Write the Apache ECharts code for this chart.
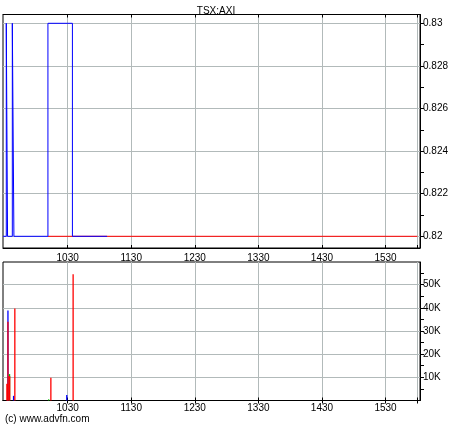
<!DOCTYPE html>
<html><head><meta charset="utf-8">
<script src="https://cdn.jsdelivr.net/npm/echarts@6/dist/echarts.min.js"></script>
<style>html,body{margin:0;padding:0;background:#fff}#c{width:460px;height:430px}</style>
</head><body><div id="c"></div><script>
const title = 'TSX:AXI';
const credit = '(c) www.advfn.com';
// times are minutes since midnight
const priceTimes  = [569, 572.1, 573.3, 577.8, 579.3, 611.4, 634.5, 667.2];
const priceValues = [0.82, 0.83, 0.82, 0.83, 0.82, 0.83, 0.82, 0.82];
const refTimes  = [611.4, 960];
const refValues = [0.82, 0.82];
// volume bars
const volBlueTimes  = [574, 579.3, 629.5];
const volBlueValues = [38800, 2000, 2400];
const volRedTimes  = [574, 580.5, 614.5, 635.5];
const volRedValues = [34000, 39700, 9800, 54500];
const volGreenTimes  = [575.5, 612.4];
const volGreenValues = [11400, 500];
const volRedSmallTimes  = [573, 575];
const volRedSmallValues = [7200, 10500];
// axes
const xLabelTimes = [630, 690, 750, 810, 870, 930];
const xGridTimes  = [630, 690, 750, 810, 870, 930, 960];
const priceLabels = [0.82, 0.822, 0.824, 0.826, 0.828, 0.83];
const priceTicks  = [0.82, 0.821, 0.822, 0.823, 0.824, 0.825, 0.826, 0.827, 0.828, 0.829, 0.83];
const volLabels = [10000, 20000, 30000, 40000, 50000];
const volTicks  = [5000, 10000, 15000, 20000, 25000, 30000, 35000, 40000, 45000, 50000, 55000];

const FONT = 'Liberation Sans';
const GRID_COLOR = '#b2baba';
const pairs = (a, b) => a.map((t, i) => [t, b[i]]);
const fmtTime = v => { const h = Math.floor(v / 60), m = Math.round(v - h * 60); return String(h * 100 + m); };

function xAxes(gi, labelMargin) {
  return [
    { type: 'value', gridIndex: gi, position: 'bottom', min: 569, max: 962.5,
      axisLine: { show: true, lineStyle: { color: '#000', width: 1 } },
      axisTick: { show: true, inside: true, length: 3, customValues: xGridTimes, lineStyle: { color: '#000' } },
      axisLabel: { show: true, customValues: xLabelTimes, formatter: fmtTime, color: '#000', fontSize: 10, fontFamily: FONT, margin: labelMargin },
      splitLine: { show: true, lineStyle: { color: GRID_COLOR, width: 1 } } },
    { type: 'value', gridIndex: gi, position: 'top', min: 569, max: 962.5,
      axisLine: { show: true, lineStyle: { color: '#000', width: 1 } },
      axisTick: { show: true, inside: true, length: 3, customValues: xGridTimes, lineStyle: { color: '#000' } },
      axisLabel: { show: false }, splitLine: { show: false } }
  ];
}

const chart = echarts.init(document.getElementById('c'), null, { renderer: 'canvas' });
chart.setOption({
  animation: false,
  backgroundColor: '#fff',
  title: { text: title, left: 211, textAlign: 'center', top: 1,
    textStyle: { fontSize: 10, fontWeight: 'normal', color: '#000', fontFamily: FONT } },
  graphic: [{ type: 'text', left: 5, top: 414, style: { text: credit, fontSize: 10, fontFamily: FONT, fill: '#000' } }],
  grid: [
    { left: 3, right: 40, top: 14.5, height: 233.5, show: true, borderColor: '#000', borderWidth: 1, outerBoundsMode: 'none', containLabel: false },
    { left: 3, right: 40, top: 262, height: 138.5, show: true, borderColor: '#000', borderWidth: 1, outerBoundsMode: 'none', containLabel: false }
  ],
  xAxis: [...xAxes(0, 5), ...xAxes(1, 3)],
  yAxis: [
    { type: 'value', gridIndex: 0, position: 'right', min: 0.819451, max: 0.830413,
      axisLine: { show: true, lineStyle: { color: '#000' } },
      axisTick: { show: true, length: 4, customValues: priceTicks, lineStyle: { color: '#000' } },
      axisLabel: { customValues: priceLabels, formatter: v => String(+v.toFixed(3)), color: '#000', fontSize: 10, fontFamily: FONT, margin: 3 },
      splitLine: { show: false } },
    { type: 'value', gridIndex: 0, position: 'right', min: 0.819451, max: 0.830413,
      axisLine: { show: false }, axisTick: { show: false, customValues: priceLabels },
      axisLabel: { show: false }, splitLine: { show: true, lineStyle: { color: GRID_COLOR, width: 1 } } },
    { type: 'value', gridIndex: 1, position: 'right', min: 0, max: 59775,
      axisLine: { show: true, lineStyle: { color: '#000' } },
      axisTick: { show: true, length: 4, customValues: volTicks, lineStyle: { color: '#000' } },
      axisLabel: { customValues: volLabels, formatter: v => Math.round(v / 1000) + 'K', color: '#000', fontSize: 10, fontFamily: FONT, margin: 3 },
      splitLine: { show: false } },
    { type: 'value', gridIndex: 1, position: 'right', min: 0, max: 59775,
      axisLine: { show: false }, axisTick: { show: false, customValues: volLabels },
      axisLabel: { show: false }, splitLine: { show: true, lineStyle: { color: GRID_COLOR, width: 1 } } }
  ],
  series: [
    { type: 'line', xAxisIndex: 0, yAxisIndex: 0, data: pairs(refTimes, refValues), symbol: 'none',
      lineStyle: { color: '#ff0000', width: 1 }, z: 2 },
    { type: 'line', xAxisIndex: 0, yAxisIndex: 0, data: pairs(priceTimes, priceValues), step: 'end', symbol: 'none',
      lineStyle: { color: '#0000ff', width: 1 }, z: 3 },
    { type: 'bar', xAxisIndex: 2, yAxisIndex: 2, data: pairs(volBlueTimes, volBlueValues), barWidth: 1.3, barGap: '-100%',
      itemStyle: { color: '#0000ff' } },
    { type: 'bar', xAxisIndex: 2, yAxisIndex: 2, data: pairs(volRedTimes, volRedValues), barWidth: 1.3, barGap: '-100%',
      itemStyle: { color: '#ff0000' } },
    { type: 'bar', xAxisIndex: 2, yAxisIndex: 2, data: pairs(volGreenTimes, volGreenValues), barWidth: 1.3, barGap: '-100%',
      itemStyle: { color: '#00c000' } },
    { type: 'bar', xAxisIndex: 2, yAxisIndex: 2, data: pairs(volRedSmallTimes, volRedSmallValues), barWidth: 2, barGap: '-100%',
      itemStyle: { color: '#ff0000' } }
  ]
});
</script></body></html>
